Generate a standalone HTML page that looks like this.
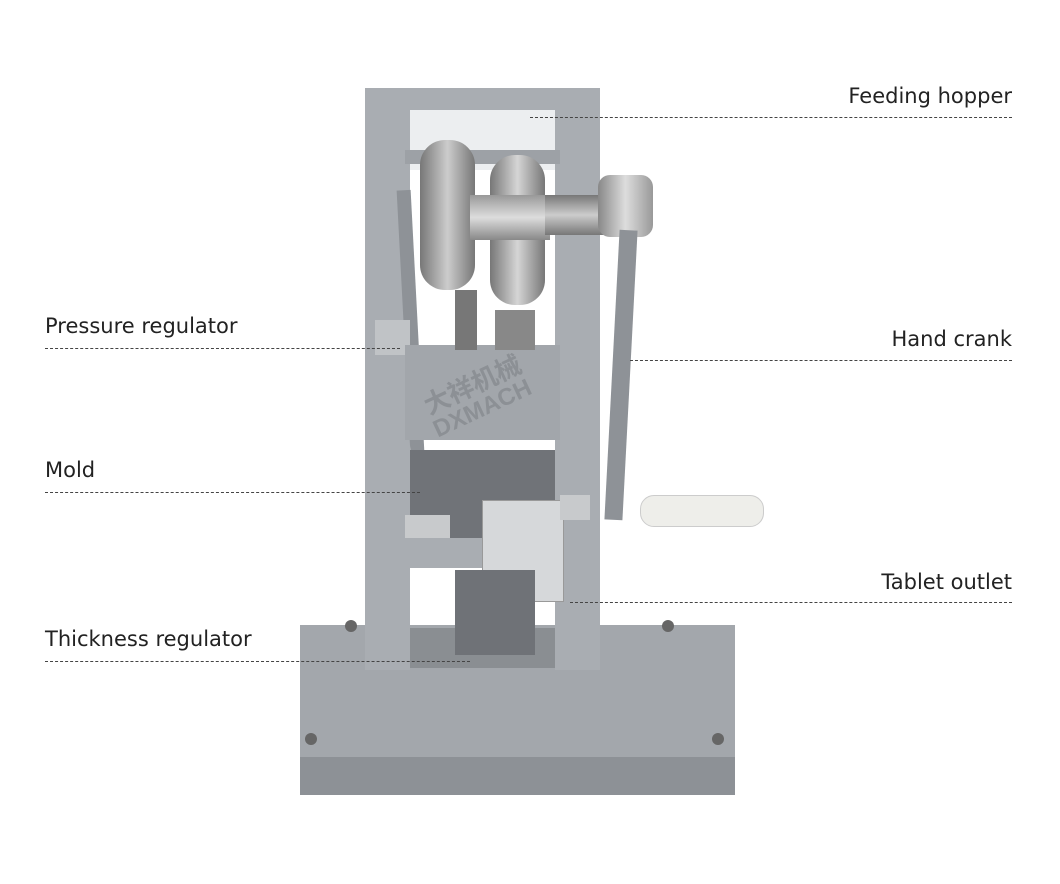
<!DOCTYPE html>
<html><head><meta charset="utf-8"><style>
body{margin:0;width:1060px;height:884px;background:#fff;position:relative;overflow:hidden;font-family:"Liberation Sans","Noto Sans CJK SC",sans-serif}
.a{position:absolute}
.lbl{position:absolute;font-size:21px;color:#222;white-space:nowrap;font-family:"DejaVu Sans",sans-serif}
.dl{position:absolute;height:0;border-top:1.5px dashed #444}
</style></head><body>
<div class="a" style="left:300px;top:625px;width:435px;height:135px;background:#a3a7ac"></div>
<div class="a" style="left:300px;top:757px;width:435px;height:38px;background:#8d9196"></div>
<div class="a" style="left:410px;top:628px;width:145px;height:40px;background:#8a8e92"></div>
<div class="a" style="left:345px;top:620px;width:12px;height:12px;border-radius:50%;background:#666"></div>
<div class="a" style="left:662px;top:620px;width:12px;height:12px;border-radius:50%;background:#666"></div>
<div class="a" style="left:305px;top:733px;width:12px;height:12px;border-radius:50%;background:#666"></div>
<div class="a" style="left:712px;top:733px;width:12px;height:12px;border-radius:50%;background:#666"></div>
<div class="a" style="left:365px;top:88px;width:45px;height:582px;background:#a9adb2"></div>
<div class="a" style="left:555px;top:88px;width:45px;height:582px;background:#a9adb2"></div>
<div class="a" style="left:365px;top:88px;width:235px;height:22px;background:#a9adb2"></div>
<div class="a" style="left:410px;top:110px;width:145px;height:60px;background:#eceef0"></div>
<div class="a" style="left:405px;top:150px;width:155px;height:14px;background:#9da1a6"></div>
<div class="a" style="left:420px;top:140px;width:55px;height:150px;border-radius:25px;background:linear-gradient(90deg,#777,#ccc,#777)"></div>
<div class="a" style="left:490px;top:155px;width:55px;height:150px;border-radius:25px;background:linear-gradient(90deg,#777,#d5d5d5,#777)"></div>
<div class="a" style="left:470px;top:195px;width:80px;height:45px;background:linear-gradient(#999,#ddd,#888)"></div>
<div class="a" style="left:545px;top:195px;width:60px;height:40px;background:linear-gradient(#777,#ccc,#777)"></div>
<div class="a" style="left:598px;top:175px;width:55px;height:62px;border-radius:12px;background:linear-gradient(90deg,#888,#ddd,#999)"></div>
<div class="a" style="left:612px;top:230px;width:18px;height:290px;background:#8e9297;transform:rotate(3deg)"></div>
<div class="a" style="left:640px;top:495px;width:122px;height:30px;border-radius:14px;background:#eeeeea;border:1px solid #ccc"></div>
<div class="a" style="left:405px;top:190px;width:14px;height:320px;background:#8e9297;transform:rotate(-3deg)"></div>
<div class="a" style="left:375px;top:320px;width:35px;height:35px;background:#c0c3c6"></div>
<div class="a" style="left:405px;top:345px;width:155px;height:95px;background:#a2a6ab"></div>
<div class="a" style="left:420px;top:365px;font-size:26px;color:#8c9095;transform:rotate(-25deg);font-weight:bold">大祥机械</div>
<div class="a" style="left:430px;top:395px;font-size:24px;color:#8c9095;transform:rotate(-25deg);font-weight:bold">DXMACH</div>
<div class="a" style="left:455px;top:290px;width:22px;height:60px;background:#777"></div>
<div class="a" style="left:495px;top:310px;width:40px;height:40px;background:#888"></div>
<div class="a" style="left:410px;top:450px;width:145px;height:90px;background:#707378"></div>
<div class="a" style="left:405px;top:515px;width:45px;height:25px;background:#c8cacc"></div>
<div class="a" style="left:405px;top:538px;width:160px;height:30px;background:#a9adb2"></div>
<div class="a" style="left:482px;top:500px;width:80px;height:100px;background:#d6d8da;border:1px solid #999"></div>
<div class="a" style="left:560px;top:495px;width:30px;height:25px;background:#c8cacc"></div>
<div class="a" style="left:455px;top:570px;width:80px;height:85px;background:#6f7277"></div>
<div class="lbl" style="right:48px;top:84px">Feeding hopper</div>
<div class="dl" style="left:530px;width:482px;top:117px"></div>
<div class="lbl" style="right:48px;top:327px">Hand crank</div>
<div class="dl" style="left:630px;width:382px;top:360px"></div>
<div class="lbl" style="right:48px;top:570px">Tablet outlet</div>
<div class="dl" style="left:570px;width:442px;top:602px"></div>
<div class="lbl" style="left:45px;top:314px">Pressure regulator</div>
<div class="dl" style="left:45px;width:355px;top:348px"></div>
<div class="lbl" style="left:45px;top:458px">Mold</div>
<div class="dl" style="left:45px;width:375px;top:492px"></div>
<div class="lbl" style="left:45px;top:627px">Thickness regulator</div>
<div class="dl" style="left:45px;width:425px;top:661px"></div>
</body></html>
